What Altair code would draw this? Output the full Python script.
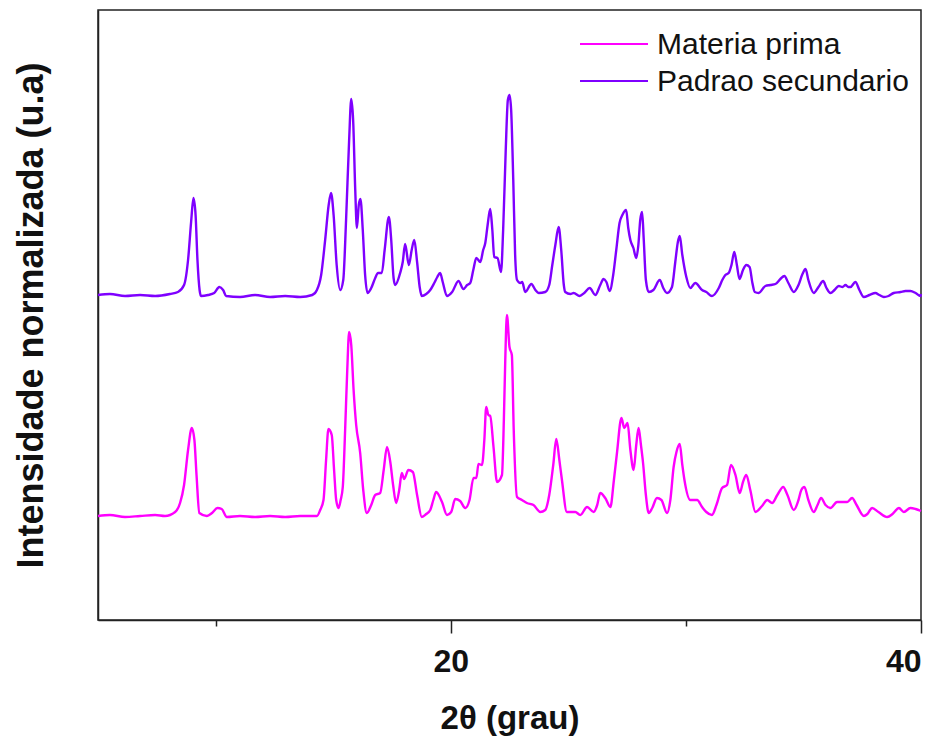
import altair as alt
import pandas as pd

# 2θ positions and normalized intensity (u.a.), stacked with a vertical offset
theta_padrao = [
    5.00, 5.51, 6.15, 6.79, 7.43, 8.06, 8.40, 8.66, 8.83, 8.96,
    9.06, 9.15, 9.23, 9.32, 9.38, 9.68, 9.94, 10.16, 10.32, 10.45,
    11.04, 11.68, 12.32, 12.96, 13.60, 14.11, 14.31, 14.49, 14.66, 14.81,
    14.91, 15.02, 15.15, 15.30, 15.43, 15.55, 15.68, 15.77, 15.85, 15.94,
    16.01, 16.09, 16.16, 16.26, 16.36, 16.46, 16.62, 16.79, 16.91, 17.07,
    17.19, 17.37, 17.47, 17.57, 17.64, 17.85, 17.96, 18.06, 18.22, 18.34,
    18.45, 18.57, 18.68, 18.77, 18.96, 19.13, 19.30, 19.43, 19.55, 19.66,
    19.84, 20.06, 20.33, 20.54, 20.70, 20.83, 20.96, 21.09, 21.26, 21.38,
    21.47, 21.57, 21.68, 21.77, 21.85, 21.99, 22.14, 22.23, 22.34, 22.43,
    22.50, 22.57, 22.66, 22.74, 22.82, 22.96, 23.04, 23.17, 23.43, 23.60,
    23.74, 24.02, 24.19, 24.32, 24.45, 24.59, 24.70, 24.81, 24.87, 25.09,
    25.23, 25.48, 25.68, 25.91, 26.15, 26.36, 26.50, 26.62, 26.76, 26.91,
    27.04, 27.18, 27.30, 27.46, 27.55, 27.64, 27.77, 27.89, 27.98, 28.06,
    28.14, 28.21, 28.30, 28.42, 28.62, 28.89, 29.04, 29.20, 29.41, 29.55,
    29.66, 29.74, 29.85, 30.02, 30.19, 30.40, 30.69, 30.87, 31.11, 31.40,
    31.55, 31.68, 31.82, 31.94, 32.06, 32.17, 32.28, 32.43, 32.57, 32.71,
    32.83, 32.93, 33.10, 33.38, 33.60, 33.81, 34.02, 34.19, 34.36, 34.59,
    34.79, 34.96, 35.09, 35.21, 35.44, 35.64, 35.84, 35.98, 36.15, 36.32,
    36.50, 36.66, 36.79, 36.91, 37.00, 37.21, 37.38, 37.57, 37.81, 38.06,
    38.23, 38.42, 38.62, 38.84, 39.13, 39.34, 39.55, 39.77, 39.98, 40.00,
]
int_padrao = [
    325, 326, 324, 325, 324, 326, 328, 335, 360, 398,
    422, 405, 360, 330, 324, 325, 327, 333, 330, 324,
    323, 325, 323, 324, 323, 325, 330, 345, 380, 415,
    427, 405, 355, 330, 340, 400, 480, 521, 500, 430,
    392, 415, 421, 390, 345, 327, 332, 342, 347, 347,
    370, 403, 380, 342, 335, 347, 358, 376, 355, 370,
    380, 358, 333, 324, 326, 330, 337, 343, 347, 338,
    324, 328, 339, 331, 335, 337, 350, 362, 358, 370,
    377, 395, 411, 390, 363, 362, 348, 390, 470, 520,
    525, 510, 440, 365, 340, 337, 338, 328, 336, 330,
    327, 328, 335, 355, 375, 393, 370, 335, 328, 326,
    327, 324, 327, 332, 325, 335, 341, 338, 329, 345,
    370, 397, 405, 410, 392, 380, 372, 362, 375, 400,
    408, 380, 340, 328, 330, 340, 332, 327, 333, 358,
    378, 384, 365, 343, 332, 337, 330, 328, 324, 332,
    340, 345, 347, 355, 368, 355, 341, 350, 355, 353,
    337, 328, 327, 334, 335, 336, 341, 344, 337, 328,
    335, 346, 351, 340, 327, 333, 339, 332, 327, 330,
    334, 333, 335, 333, 333, 338, 330, 323, 325, 327,
    325, 323, 324, 327, 328, 329, 329, 327, 324, 326,
]

theta_materia = [
    5.00, 5.51, 6.15, 6.79, 7.43, 7.85, 8.28, 8.49, 8.66, 8.83,
    8.99, 9.10, 9.19, 9.31, 9.63, 9.85, 10.08, 10.26, 10.48, 11.04,
    11.68, 12.32, 12.96, 13.60, 14.31, 14.45, 14.59, 14.70, 14.80, 14.94,
    15.04, 15.13, 15.23, 15.32, 15.41, 15.51, 15.60, 15.68, 15.77, 15.87,
    15.98, 16.15, 16.28, 16.43, 16.62, 16.79, 17.00, 17.15, 17.29, 17.43,
    17.55, 17.68, 17.81, 17.92, 18.02, 18.20, 18.39, 18.57, 18.77, 18.96,
    19.13, 19.26, 19.38, 19.63, 19.84, 20.02, 20.19, 20.40, 20.62, 20.80,
    20.97, 21.09, 21.18, 21.33, 21.43, 21.51, 21.60, 21.68, 21.82, 21.97,
    22.18, 22.26, 22.32, 22.39, 22.50, 22.60, 22.68, 22.82, 23.03, 23.24,
    23.52, 23.81, 24.02, 24.19, 24.36, 24.49, 24.62, 24.73, 24.94, 25.30,
    25.51, 25.80, 26.08, 26.23, 26.36, 26.57, 26.79, 26.94, 27.07, 27.26,
    27.38, 27.52, 27.64, 27.78, 27.89, 27.99, 28.09, 28.18, 28.30, 28.42,
    28.57, 28.77, 28.96, 29.20, 29.34, 29.48, 29.60, 29.74, 29.85, 29.94,
    30.19, 30.48, 30.69, 30.87, 31.11, 31.30, 31.54, 31.75, 31.92, 32.11,
    32.29, 32.43, 32.57, 32.74, 32.96, 33.24, 33.46, 33.67, 33.89, 34.14,
    34.32, 34.59, 34.79, 34.91, 35.04, 35.21, 35.44, 35.60, 35.75, 35.94,
    36.15, 36.43, 36.62, 36.86, 37.07, 37.26, 37.57, 37.72, 37.92, 38.19,
    38.56, 38.79, 39.06, 39.27, 39.55, 39.77, 40.00,
]
int_materia = [
    104, 105, 103, 104, 105, 104, 108, 117, 135, 170,
    192, 180, 145, 107, 104, 107, 112, 111, 103, 104,
    103, 104, 103, 104, 104, 110, 120, 160, 191, 185,
    150, 120, 112, 120, 133, 190, 250, 288, 275, 230,
    195, 167, 130, 107, 115, 125, 127, 150, 173, 158,
    135, 117, 130, 147, 141, 150, 148, 125, 103, 106,
    110, 120, 128, 118, 105, 108, 121, 119, 112, 120,
    142, 142, 156, 155, 180, 213, 205, 204, 173, 138,
    145, 200, 260, 305, 273, 265, 190, 123, 120, 117,
    115, 108, 110, 125, 155, 181, 160, 140, 108, 108,
    105, 113, 108, 115, 127, 122, 113, 140, 167, 202,
    192, 197, 170, 150, 175, 192, 175, 157, 125, 107,
    112, 122, 120, 107, 120, 153, 168, 176, 155, 140,
    120, 120, 113, 108, 105, 115, 132, 135, 155, 145,
    127, 138, 145, 130, 108, 114, 120, 117, 125, 133,
    125, 110, 120, 130, 133, 120, 108, 115, 122, 115,
    112, 118, 118, 118, 122, 115, 104, 106, 112, 108,
    103, 106, 112, 108, 112, 111, 109,
]

series_names = ["Materia prima", "Padrao secundario"]
series_colors = ["#FF00FF", "#7F00FF"]

df = pd.concat([
    pd.DataFrame({"theta": theta_materia, "intensidade": int_materia,
                  "serie": series_names[0], "ordem": range(len(theta_materia))}),
    pd.DataFrame({"theta": theta_padrao, "intensidade": int_padrao,
                  "serie": series_names[1], "ordem": range(len(theta_padrao))}),
])

FONT = "Liberation Sans"

x_axis = alt.Axis(
    values=[10, 20, 30, 40],
    labelExpr="datum.value % 20 === 0 ? datum.label : ''",
    tickSize={"condition": {"test": "datum.value % 20 === 0", "value": 13}, "value": 6},
    tickColor="#222222",
    tickWidth=1.5,
    domainColor="#222222",
    domainWidth=1.5,
    labelFont=FONT,
    labelFontSize=32,
    labelFontWeight="bold",
    labelColor="#111111",
    labelPadding=13,
    grid=False,
    title="2θ (grau)",
    titleFont=FONT,
    titleFontSize=33,
    titleFontWeight="bold",
    titleColor="#111111",
    titleBaseline="middle",
    titleY=98,
)

y_axis = alt.Axis(
    labels=False,
    ticks=False,
    grid=False,
    domainColor="#222222",
    domainWidth=1.5,
    title="Intensidade normalizada (u.a)",
    titleFont=FONT,
    titleFontSize=36,
    titleFontWeight="bold",
    titleColor="#111111",
    titleBaseline="middle",
    titleX=-67,
    titleY=305,
)

lines = alt.Chart(df).mark_line(strokeWidth=2.4, interpolate="monotone").encode(
    x=alt.X("theta:Q", scale=alt.Scale(domain=[5, 40], nice=False, zero=False), axis=x_axis),
    y=alt.Y("intensidade:Q", scale=alt.Scale(domain=[0, 610], nice=False), axis=y_axis),
    color=alt.Color("serie:N",
                    scale=alt.Scale(domain=series_names, range=series_colors),
                    legend=None),
    order="ordem:Q",
    detail="serie:N",
)

# Legend drawn inside the frame, upper right
legend_layers = []
for i, (name, col) in enumerate(zip(series_names, series_colors)):
    row = pd.DataFrame({"serie": [name]})
    yy = 34 + 37 * i
    legend_layers.append(
        alt.Chart(row).mark_rule(color=col, strokeWidth=2).encode(
            x=alt.value(482), x2=alt.value(550), y=alt.value(yy)
        )
    )
    legend_layers.append(
        alt.Chart(row).mark_text(
            align="left", baseline="middle", font=FONT, fontSize=30, color="#111111"
        ).encode(x=alt.value(559), y=alt.value(yy + 1), text="serie:N")
    )

chart = alt.layer(lines, *legend_layers).properties(
    width=823,
    height=610,
    padding={"left": 98, "top": 10, "right": 27, "bottom": 120},
    autosize=alt.AutoSizeParams(type="none"),
    background="white",
).configure_view(
    stroke="#222222",
    strokeWidth=1.5,
)

chart.save("out.html", embed_options={"renderer": "svg", "actions": False})
